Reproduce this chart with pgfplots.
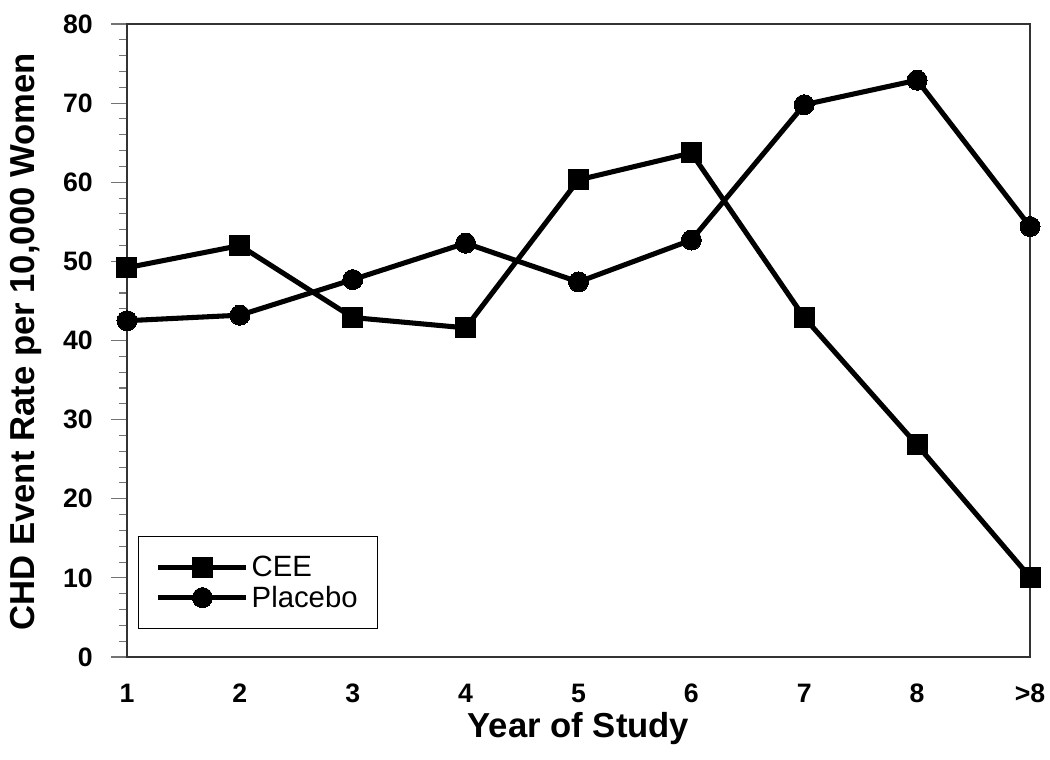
\documentclass[border=0pt]{standalone}
\usepackage{fontspec}
\setmainfont{Liberation Sans}
\usepackage{pgfplots}
\pgfplotsset{compat=1.18}
\begin{document}
\begin{tikzpicture}
\useasboundingbox (-95.25pt,-77.25pt) rectangle (692.25pt,492.75pt);
\begin{axis}[
  scale only axis, width=677.25pt, height=474.75pt,
  xmin=1, xmax=9, ymin=0, ymax=80,
  xtick={1,2,3,4,5,6,7,8,9},
  xticklabels={1,2,3,4,5,6,7,8,{>8}},
  ytick={0,10,20,30,40,50,60,70,80},
  minor y tick num=4,
  ytick pos=left,
  xtick style={draw=none},
  tick align=outside,
  major tick length=12pt,
  minor tick length=6pt,
  ytick style={black!55, line width=0.8pt},
  axis line style={black!80, line width=0.9pt},
  /pgf/number format/assume math mode=true,
  ticklabel style={font=\bfseries\fontsize{20}{24}\selectfont},
  xticklabel style={anchor=base, yshift=-21.75pt},
  yticklabel style={anchor=east, inner sep=0pt, xshift=-13.5pt},
  label style={font=\bfseries\fontsize{26}{30}\selectfont},
  xlabel={Year of Study},
  ylabel={CHD Event Rate per 10,000 Women},
  xlabel style={at={(axis description cs:0.5,-0.1275)}, anchor=base},
  ylabel style={at={(axis description cs:-0.0896,0.498)}, anchor=south},
  legend style={at={(0.0122,0.044)}, anchor=south west, draw=black, line width=0.9pt,
    font=\fontsize{22}{24}\selectfont, inner xsep=13pt, inner ysep=12.5pt,
    row sep=1.5pt, legend cell align=left},
  legend image code/.code={\draw[mark repeat=2,mark phase=2] plot coordinates {(0pt,0pt) (33pt,0pt) (66pt,0pt)};},
  clip=false,
]
\addplot[black, line width=3.8pt, mark=square*, mark size=7.5pt, mark options={line width=0pt}]
  coordinates {(1,49.2) (2,52.0) (3,42.9) (4,41.6) (5,60.3) (6,63.7) (7,42.9) (8,26.8) (9,10.1)};
\addlegendentry{CEE}
\addplot[black, line width=3.8pt, mark=*, mark size=7.5pt, mark options={line width=0pt}]
  coordinates {(1,42.5) (2,43.2) (3,47.7) (4,52.3) (5,47.4) (6,52.7) (7,69.8) (8,72.9) (9,54.4)};
\addlegendentry{Placebo}
\end{axis}
\end{tikzpicture}
\end{document}
